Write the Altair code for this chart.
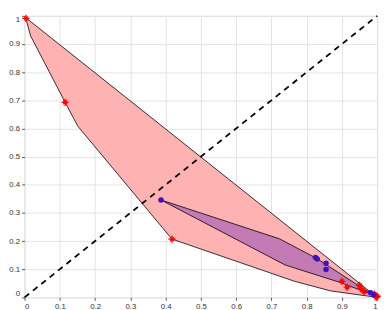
import altair as alt
import pandas as pd

# Outer (pink) polygon vertices, in drawing order (closed)
pink_x = [0.003, 0.017, 0.115, 0.151, 0.418, 0.766, 0.868, 0.960, 1.0, 0.003]
pink_y = [0.994, 0.929, 0.693, 0.608, 0.207, 0.057, 0.023, 0.007, 0.0, 0.994]

# Inner (purple) polygon vertices (closed)
purple_x = [0.387, 0.723, 0.829, 0.954, 0.997, 0.900, 0.739, 0.387]
purple_y = [0.346, 0.208, 0.138, 0.036, 0.004, 0.051, 0.115, 0.346]

# Red plus markers
red_x = [0.004, 0.115, 0.418, 0.900, 0.915, 0.950, 0.953, 0.963, 0.992, 1.0, 0.997]
red_y = [0.991, 0.693, 0.207, 0.057, 0.036, 0.043, 0.033, 0.020, 0.012, 0.004, 0.0]

# Blue dots
blue_x = [0.387, 0.825, 0.830, 0.855, 0.855, 0.981, 0.990]
blue_y = [0.346, 0.142, 0.136, 0.121, 0.099, 0.016, 0.010]

# Diagonal reference line
diag_x = [0.0, 1.0]
diag_y = [0.0, 1.0]

ticks = [0, 0.1, 0.2, 0.3, 0.4, 0.5, 0.6, 0.7, 0.8, 0.9, 1]

pink = pd.DataFrame({"x": pink_x, "y": pink_y, "i": range(len(pink_x))})
purple = pd.DataFrame({"x": purple_x, "y": purple_y, "i": range(len(purple_x))})
red = pd.DataFrame({"x": red_x, "y": red_y})
blue = pd.DataFrame({"x": blue_x, "y": blue_y})
diag = pd.DataFrame({"x": diag_x, "y": diag_y})

xs = alt.Scale(domain=[0, 1], nice=False, zero=False)
ys = alt.Scale(domain=[0, 1], nice=False, zero=False)
common = dict(values=ticks, title=None, format="~g", labelFontSize=8, tickSize=3,
              labelPadding=2, labelColor="#333", tickColor="#555", domain=False,
              gridColor="#e3e3e3", labelFont="Liberation Sans", labelOverlap=False)
xax = alt.Axis(**common)
yax = alt.Axis(labelFlush=True, **common)

X = alt.X("x:Q", scale=xs, axis=xax)
Y = alt.Y("y:Q", scale=ys, axis=yax)

pink_layer = alt.Chart(pink).mark_line(
    fill="#FFB2B2", stroke="black", strokeWidth=0.8, interpolate="linear"
).encode(x=X, y=Y, order="i:Q")

purple_layer = alt.Chart(purple).mark_line(
    fill="#C47AB4", stroke="black", strokeWidth=0.8, interpolate="linear"
).encode(x=X, y=Y, order="i:Q")

diag_layer = alt.Chart(diag).mark_line(
    color="black", strokeWidth=1.8, strokeDash=[6, 5]
).encode(x=X, y=Y)

red_layer = alt.Chart(red).mark_point(
    shape="M-1,0L1,0M0,-1L0,1M-0.55,-0.55L0.55,0.55M-0.55,0.55L0.55,-0.55",
    stroke="#FF0000", strokeWidth=1.3, size=55, filled=False, opacity=1
).encode(x=X, y=Y)

blue_layer = alt.Chart(blue).mark_circle(
    color="#4010C0", size=32, opacity=1
).encode(x=X, y=Y)

chart = alt.layer(pink_layer, purple_layer, diag_layer, red_layer, blue_layer).properties(
    width=362, height=289, padding=0
).configure_view(stroke="#dddddd")

chart.save("out.html", embed_options={"renderer": "svg", "actions": False})
